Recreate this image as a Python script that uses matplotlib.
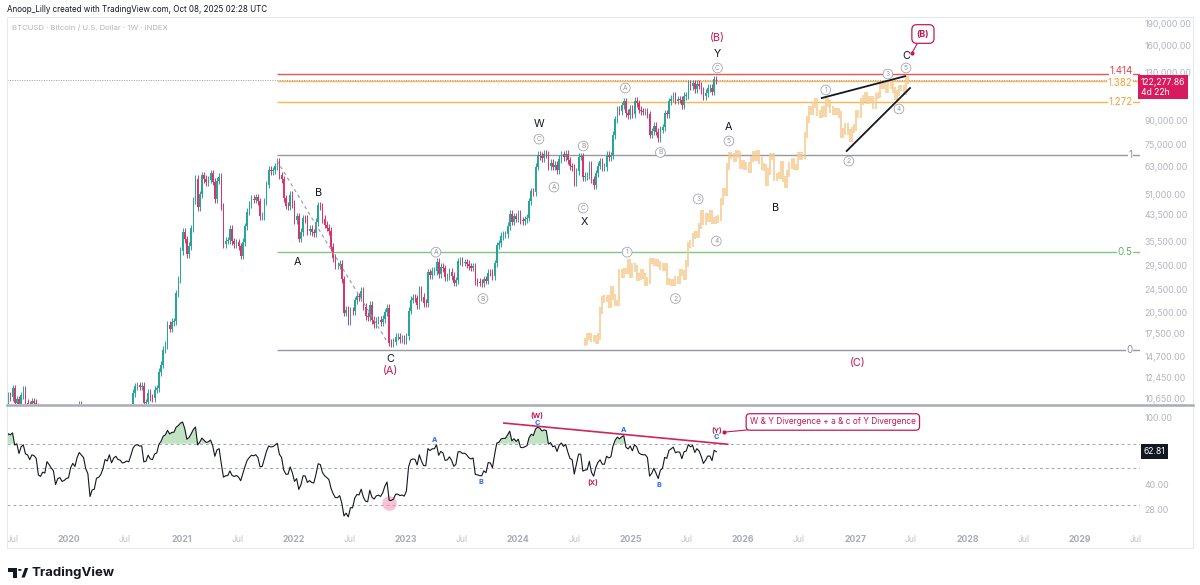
import numpy as np
import pandas as pd
import matplotlib
matplotlib.use("Agg")
import matplotlib.pyplot as plt
import matplotlib.dates as mdates
from matplotlib.patches import Rectangle, Circle, Polygon
from matplotlib.lines import Line2D
from matplotlib.ticker import NullLocator
from matplotlib.transforms import blended_transform_factory

plt.rcParams['font.family'] = ['Inter', 'DejaVu Sans']

# weekly closes BTCUSD (INDEX), one value per week, last one = week of 2025-10-06
close_2018 = [6600, 6300, 6450, 6400, 6450, 6350, 5600, 4000, 3950, 3550, 3250, 3950, 3700, 4050]
close_2019 = [3500, 3540, 3540, 3410, 3650, 3620, 3750, 3820, 3920, 4000, 3990, 4100,
              5050, 5070, 5300, 5200, 5750, 6990, 8000, 8700, 8550, 7990, 8950, 10850,
              10750, 11500, 10250, 10550, 9500, 10900, 11400, 10300, 10150, 9600, 10400, 10300,
              10000, 8050, 7870, 8300, 8200, 9550, 9200, 8800, 8500, 6900, 7400, 7500,
              7080, 7150, 7300, 7350]
close_2020 = [8200, 8650, 8350, 9380, 10150, 9900, 9650, 8550, 8030, 5360, 5830, 5880,
              6780, 6860, 7120, 7690, 8890, 8720, 9680, 8720, 9450, 9750, 9380, 9300,
              9010, 9070, 9230, 9160, 9930, 11080, 11680, 11770, 11650, 11700, 10250, 10330,
              11080, 10730, 10660, 11370, 11500, 13030, 13780, 15480, 16050, 18700, 18180, 19150,
              19240, 23850, 26470, 33000]
close_2021 = [38150, 36050, 32280, 34300, 39250, 48580, 57500, 46150, 50960, 59020, 57340, 55850,
              57060, 60000, 56200, 49000, 56600, 58240, 46430, 34700, 35680, 35800, 39100, 35500,
              34700, 35300, 34250, 31800, 35400, 39850, 44600, 47100, 49300, 48900, 49900, 48300,
              43000, 43200, 48200, 54970, 61550, 60900, 61300, 63300, 65500, 59000, 57250, 49400,
              46700, 46680, 50800, 47300]
close_2022 = [41850, 43100, 36280, 38150, 42400, 42200, 38350, 39100, 38050, 37800, 41280, 46820,
              46400, 42160, 40380, 39450, 38470, 34050, 31300, 29450, 29450, 29900, 26570, 20550,
              21030, 19300, 20850, 20800, 22580, 23300, 23170, 24300, 21500, 20030, 19830, 21830,
              19420, 18800, 19310, 19420, 19070, 19570, 20600, 21300, 16330, 16290, 16460, 17100,
              17100, 16780, 16840, 16620]
close_2023 = [17130, 20880, 22700, 23030, 22940, 21780, 24620, 23170, 22130, 22100, 28000, 27480,
              28330, 28330, 30300, 27600, 29250, 28850, 26930, 27100, 28080, 27230, 25850, 26340,
              30530, 30580, 30170, 30230, 29900, 29300, 29050, 29300, 26100, 26010, 25870, 25840,
              26570, 26250, 27970, 27920, 27150, 30000, 34500, 35000, 37070, 37450, 37450, 39970,
              43990, 41350, 43020, 42280]
close_2024 = [43950, 41700, 41580, 42030, 42580, 48300, 52150, 51730, 63100, 68950, 68400, 67200,
              69650, 69360, 63400, 64950, 63100, 63900, 61500, 66950, 69300, 67750, 69650, 66200,
              63200, 62700, 55850, 60800, 68150, 68250, 58100, 58700, 58900, 64200, 57300, 54800,
              59950, 63600, 65650, 62850, 62850, 69000, 67950, 68750, 80400, 90600, 97700, 96400,
              101150, 104300, 95200, 93700]
close_2025 = [98300, 94500, 104500, 102600, 97700, 96500, 96100, 96250, 94250, 80700, 82600, 86100,
              82400, 78400, 83700, 85200, 95000, 94300, 104100, 106400, 109000, 104600, 105700, 105500,
              100900, 108400, 109200, 119100, 117300, 119400, 114200, 119300, 117400, 113500, 108300, 111100,
              115300, 115300, 112200, 123500, 122277.86]

last_week = "2025-10-06"
last_price = 122277.86
last_rsi = 62.81

# fib retracement (log) from 2021 top to 2022 low
fib_0 = 15476
fib_1 = 69000
fib_start = "2021-11-08"
fib_levels = [0, 0.5, 1, 1.272, 1.414, 1.382]
fib_names = ["0", "0.5", "1", "1.272", "1.414", "1.382"]

# bars pattern: copy of the move since the 2022 low, shifted forward
ghost_from = "2022-11-21"
ghost_shift_weeks = 89

price_ticks = [190000, 160000, 130000, 90000, 75000, 63000, 51000, 43500,
               35500, 29500, 24500, 20500, 17500, 14700, 12450, 10650]
rsi_ticks = [100, 40, 28]
rsi_levels = [70, 50, 30]

# wave labels (text, date, price)
waves_black = [("Y", "2025-10-10", 150000), ("W", "2024-03-08", 87500), ("X", "2024-08-02", 41200),
               ("A", "2022-01-12", 30300), ("B", "2022-03-21", 51500), ("C", "2022-11-10", 14400),
               ("A", "2025-11-16", 85400), ("B", "2026-04-18", 45900), ("C", "2027-06-15", 147500)]
waves_pink = [("(B)", "2025-10-10", 169300), ("(A)", "2022-11-10", 13100), ("(C)", "2027-01-10", 13950)]
waves_circled = [("C", "2025-10-10", 134500), ("C", "2024-03-08", 77900), ("A", "2024-04-26", 53900),
                 ("B", "2024-07-30", 73900), ("C", "2024-07-30", 45900), ("A", "2023-04-08", 32700),
                 ("B", "2023-09-08", 22900), ("A", "2024-12-14", 115300), ("B", "2025-04-07", 70300),
                 ("1", "2024-12-20", 32700), ("2", "2025-05-26", 22900), ("3", "2025-08-08", 49200),
                 ("4", "2025-10-06", 35600), ("5", "2025-11-16", 76800),
                 ("1", "2026-09-27", 113600), ("2", "2026-12-11", 65800), ("3", "2027-04-17", 128400),
                 ("4", "2027-05-23", 98200), ("5", "2027-06-15", 134500)]
wedge_upper = [("2026-09-14", 106800), ("2027-06-12", 126300)]
wedge_lower = [("2026-12-04", 71100), ("2027-06-28", 115300)]
abc_dash = [("2021-11-07", 66000), ("2022-11-03", 16300)]

rsi_marks = [("(W)", "2024-03-02", 102.8, "#C2185B"), ("C", "2024-03-02", 93.2, "#2962FF"),
             ("A", "2023-04-05", 73.5, "#2962FF"), ("B", "2023-09-02", 41.4, "#2962FF"),
             ("(X)", "2024-08-30", 40.9, "#C2185B"), ("A", "2024-12-07", 84.5, "#2962FF"),
             ("B", "2025-04-01", 39.7, "#2962FF"), ("(Y)", "2025-10-06", 84.5, "#C2185B"),
             ("C", "2025-10-06", 76.7, "#2962FF")]
rsi_div_line = [("2023-11-15", 93.2), ("2025-11-12", 69.5)]

UP = "#26A69A"
DOWN = "#D9346B"
PINK = "#C2185B"
GHOST = "#F7C98D"
GRAY = "#9598A1"
AXTXT = "#B2B5BE"


def dn(s):
    return mdates.date2num(pd.Timestamp(s))


closes = close_2018 + close_2019 + close_2020 + close_2021 + close_2022 + close_2023 + close_2024 + close_2025
dates = pd.date_range(end=last_week, periods=len(closes), freq="W-MON")
x = mdates.date2num(dates.to_pydatetime())
c = np.array(closes, dtype=float)
o = np.r_[c[0], c[:-1]]
top = np.maximum(o, c)
bot = np.minimum(o, c)
cols = np.where(c >= o, UP, DOWN)

s = pd.Series(c)
d = s.diff()
gain = d.clip(lower=0).ewm(alpha=1 / 14, adjust=False).mean()
loss = (-d.clip(upper=0)).ewm(alpha=1 / 14, adjust=False).mean()
rsi = (100 - 100 / (1 + gain / loss)).to_numpy()

W, H = 1200, 585
fig = plt.figure(figsize=(12, 5.85), dpi=100)


def fx(px):
    return px / W


def fy(py):
    return 1 - py / H


ax = fig.add_axes([fx(7), fy(404), fx(1140) - fx(7), fy(17) - fy(404)])
axr = fig.add_axes([fx(7), fy(522), fx(1140) - fx(7), fy(406) - fy(522)])
x0, x1 = dn("2019-06-13"), dn("2029-07-15")

# ---- price panel
ax.set_yscale("log")
ax.set_xlim(x0, x1)
ax.set_ylim(10190, 198960)
ax.vlines(x, bot * 0.972, top * 1.028, colors=cols, lw=0.7, zorder=3)
ax.bar(x, top - bot, bottom=bot, width=4.8, color=cols, lw=0, zorder=3)

g = dates >= pd.Timestamp(ghost_from)
gx = x[g] + ghost_shift_weeks * 7
ax.vlines(gx, bot[g] * 0.975, top[g] * 1.025, colors=GHOST, lw=1.1, zorder=2)

blend = blended_transform_factory(ax.transAxes, ax.transData)
fib_line_col = {"0": GRAY, "0.5": "#81C784", "1": GRAY, "1.272": "#FFB74D", "1.382": "#FFB74D", "1.414": "#EF5350"}
fib_txt_col = {"0": "#8A8D96", "0.5": "#5DB163", "1": "#8A8D96", "1.272": "#F5A035", "1.382": "#F5A035", "1.414": "#E5404F"}
fib_nudge = {"1.414": 2.2, "1.382": -1.8}
for lvl, name in zip(fib_levels, fib_names):
    p = fib_0 * (fib_1 / fib_0) ** lvl
    ax.hlines(p, dn(fib_start), x1, colors=fib_line_col[name], lw=1.0, zorder=1)
    ax.annotate(name, xy=(0.9935, p), xycoords=blend, xytext=(0, fib_nudge.get(name, 0)),
                textcoords="offset points", ha="right", va="center", color=fib_txt_col[name],
                fontsize=7.0, bbox=dict(fc="white", ec="none", pad=0.2), zorder=7)

ax.axhline(last_price, color=GRAY, ls=(0, (1, 1.5)), lw=0.7, zorder=1)

ax.plot([dn(a) for a, _ in abc_dash], [b for _, b in abc_dash], color=GRAY, lw=0.8, ls=(0, (3, 3)), zorder=4)
for seg in (wedge_upper, wedge_lower):
    ax.plot([dn(a) for a, _ in seg], [b for _, b in seg], color="#131722", lw=1.3, zorder=5)

for t, dt, p in waves_black:
    ax.text(dn(dt), p, t, ha="center", va="center", fontsize=7.8, color="#131722", zorder=6)
for t, dt, p in waves_pink:
    ax.text(dn(dt), p, t, ha="center", va="center", fontsize=7.8, color=PINK, zorder=6)
for t, dt, p in waves_circled:
    ax.text(dn(dt), p, t, ha="center", va="center", fontsize=4.8, color=GRAY, zorder=6,
            bbox=dict(boxstyle="circle,pad=0.28", fc="white", ec="#A3A6AF", lw=0.6))

ax.annotate("(B)", xy=(dn("2027-07-04"), 151000), xytext=(dn("2027-08-09"), 174600),
            ha="center", va="center", fontsize=6.3, color=PINK, fontweight="bold", zorder=8,
            bbox=dict(boxstyle="round,pad=0.55", fc="white", ec=PINK, lw=0.9),
            arrowprops=dict(arrowstyle="-", color=PINK, lw=0.8, shrinkA=0, shrinkB=0))
ax.plot(dn("2027-07-04"), 151000, "o", ms=2, color=PINK, zorder=8)

ax.yaxis.tick_right()
ax.set_yticks(price_ticks)
ax.set_yticklabels([f"{v:,.2f}" for v in price_ticks])
ax.yaxis.set_minor_locator(NullLocator())
ax.tick_params(axis="y", length=0, pad=3, labelsize=6.3, labelcolor=AXTXT)
ax.set_xticks([])
for sp in ax.spines.values():
    sp.set_visible(False)
ax.annotate(f"{last_price:,.2f}\n4d 22h", xy=(0.9985, last_price), xycoords=blend,
            xytext=(2, -5), textcoords="offset points", ha="left", va="center", fontsize=6.2,
            color="white", linespacing=1.15, zorder=10, annotation_clip=False,
            bbox=dict(boxstyle="square,pad=0.3", fc="#D81B5E", ec="none"))
ax.text(5 / 1133, 0.972, "BTCUSD · Bitcoin / U.S. Dollar · 1W · INDEX", transform=ax.transAxes,
        ha="left", va="center", fontsize=5.6, color=AXTXT)

# ---- RSI panel
axr.set_yscale("log")
axr.set_xlim(x0, x1)
axr.set_ylim(23.7, 118)
for lv in rsi_levels:
    axr.axhline(lv, color="#A3A6AF", lw=0.7, ls=(0, (3, 3)), zorder=1)
axr.fill_between(x, rsi, 70, where=rsi > 70, interpolate=True, color="#4CAF50", alpha=0.35, lw=0, zorder=2)
axr.plot(x, rsi, color="#131722", lw=0.8, zorder=3)
axr.scatter(dn("2022-11-07"), 31, s=110, color="#F48FB1", alpha=0.55, lw=0, zorder=2)
for t, dt, v, col in rsi_marks:
    axr.text(dn(dt), v, t, ha="center", va="center", fontsize=5.2, fontweight="bold", color=col, zorder=6)
axr.plot([dn(a) for a, _ in rsi_div_line], [b for _, b in rsi_div_line], color="#D0245F", lw=1.2, zorder=5)
axr.annotate("W & Y Divergence + a & c of Y Divergence", xy=(dn("2025-10-31"), 82.2),
             xytext=(dn("2026-10-20"), 94.6), ha="center", va="center", fontsize=6.0, color=PINK, zorder=8,
             bbox=dict(boxstyle="round,pad=0.45", fc="white", ec=PINK, lw=0.9),
             arrowprops=dict(arrowstyle="-", color=PINK, lw=0.8, shrinkA=0, shrinkB=0))
axr.plot(dn("2025-10-31"), 82.2, "o", ms=2, color=PINK, zorder=8)

axr.yaxis.tick_right()
axr.set_yticks(rsi_ticks)
axr.set_yticklabels([f"{v:.2f}" for v in rsi_ticks])
axr.yaxis.set_minor_locator(NullLocator())
axr.tick_params(axis="y", length=0, pad=3, labelsize=6.3, labelcolor=AXTXT)
rblend = blended_transform_factory(axr.transAxes, axr.transData)
axr.text(1.0035, last_rsi, f"{last_rsi:.2f}", transform=rblend, ha="left", va="center", fontsize=6.2,
         color="white", zorder=10, bbox=dict(boxstyle="square,pad=0.3", fc="#131722", ec="none"))

tick_dates = pd.date_range("2019-07-01", "2029-07-01", freq="6MS")
axr.set_xticks(mdates.date2num(tick_dates.to_pydatetime()))
axr.set_xticklabels(["Jul" if t.month == 7 else str(t.year) for t in tick_dates])
axr.tick_params(axis="x", length=0, pad=9, labelsize=6.3, labelcolor="#BFC2CA")
for lab in axr.get_xticklabels():
    if lab.get_text() != "Jul":
        lab.set_fontweight("bold")
        lab.set_color("#A9ACB5")
for sp in axr.spines.values():
    sp.set_visible(False)

# ---- frame, header, logo
fig.add_artist(Rectangle((fx(7), fy(548)), fx(1193) - fx(7), fy(17) - fy(548), transform=fig.transFigure,
                         fill=False, ec="#E6E8EE", lw=0.8))
fig.add_artist(Line2D([fx(7), fx(1193)], [fy(405), fy(405)], transform=fig.transFigure, color="#A9ACB5", lw=1.8))
fig.text(fx(7), fy(10), "Anoop_Lilly created with TradingView.com, Oct 08, 2025 02:28 UTC",
         ha="left", va="center", fontsize=5.8, color="#131722")
fig.add_artist(Polygon([(fx(7.5), fy(568)), (fx(17), fy(568)), (fx(17), fy(577.5)), (fx(12.5), fy(577.5)),
                        (fx(12.5), fy(571.5)), (fx(7.5), fy(571.5))], closed=True, transform=fig.transFigure,
                       fc="#131722", ec="none"))
fig.add_artist(Circle((fx(19.8), fy(569.9)), 1.9 / W, transform=fig.transFigure, fc="#131722", ec="none"))
fig.add_artist(Polygon([(fx(21.5), fy(577.5)), (fx(24.8), fy(577.5)), (fx(28.2), fy(568)), (fx(24.9), fy(568))],
                       closed=True, transform=fig.transFigure, fc="#131722", ec="none"))
fig.text(fx(32), fy(572.5), "TradingView", ha="left", va="center", fontsize=9.5, fontweight="bold", color="#131722")

fig.savefig("out.png", dpi=100, facecolor="white")
